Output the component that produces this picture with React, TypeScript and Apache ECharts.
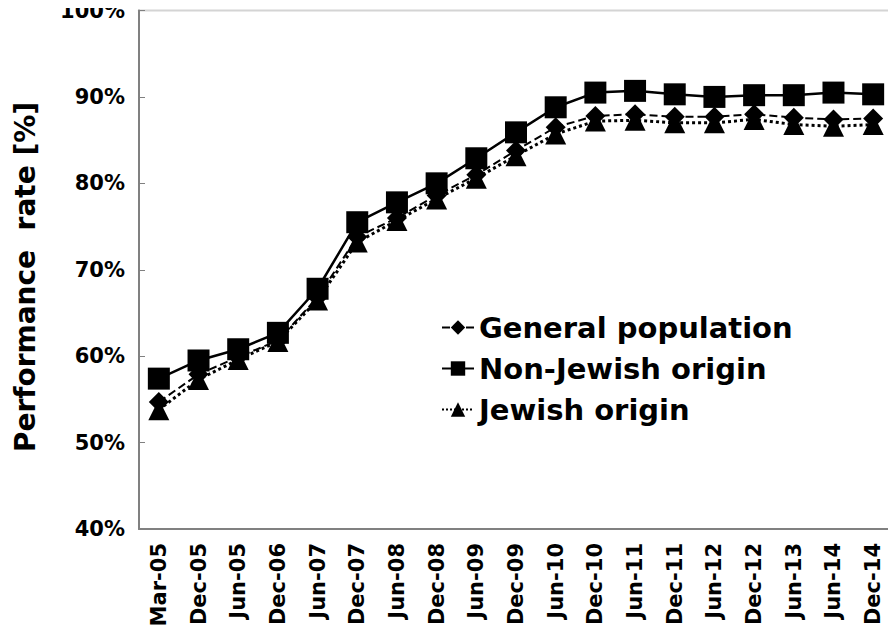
import React, { useEffect, useRef } from "react";
import * as echarts from "echarts";

const categories = [
  "Mar-05", "Dec-05", "Jun-05", "Dec-06", "Jun-07", "Dec-07", "Jun-08", "Dec-08",
  "Jun-09", "Dec-09", "Jun-10", "Dec-10", "Jun-11", "Dec-11", "Jun-12", "Dec-12",
  "Jun-13", "Jun-14", "Dec-14",
];
const generalPopulation = [54.7, 57.9, 59.9, 61.8, 66.8, 73.8, 76.0, 78.6, 81.0, 83.8, 86.5, 87.8, 88.0, 87.7, 87.7, 88.0, 87.6, 87.4, 87.5];
const nonJewishOrigin = [57.4, 59.5, 60.8, 62.7, 67.8, 75.5, 77.8, 80.0, 82.9, 85.9, 88.8, 90.5, 90.7, 90.3, 90.0, 90.2, 90.2, 90.5, 90.3];
const jewishOrigin = [53.8, 57.3, 59.6, 61.7, 66.5, 73.2, 75.7, 78.2, 80.6, 83.2, 85.7, 87.2, 87.3, 87.0, 87.0, 87.4, 86.8, 86.6, 86.8];
const seriesNames = ["General population", "Non-Jewish origin", "Jewish origin"];
const yAxisTitle = "Performance  rate [%]";

const FONT = "DejaVu Sans";

export default function App() {
  const ref = useRef<HTMLDivElement>(null);
  useEffect(() => {
    if (!ref.current) return;
    const chart = echarts.init(ref.current, null, { renderer: "svg" });
    chart.setOption({
      animation: false,
      backgroundColor: "#ffffff",
      grid: {
        left: 139,
        top: 10,
        right: 3,
        bottom: 105,
        show: true,
        borderColor: "#d4d4d4",
        borderWidth: 2,
        backgroundColor: "#ffffff",
      },
      legend: {
        orient: "vertical",
        left: 436,
        top: 308,
        itemWidth: 32,
        itemHeight: 18,
        itemGap: 12,
        data: seriesNames,
        textStyle: { fontFamily: FONT, fontWeight: "bold", fontSize: 29, color: "#000" },
      },
      graphic: [
        {
          type: "text",
          x: 25,
          y: 277,
          rotation: Math.PI / 2,
          style: {
            text: yAxisTitle,
            fontFamily: FONT,
            fontWeight: "bold",
            fontSize: 28,
            fill: "#000",
            align: "center",
            verticalAlign: "middle",
          },
        },
      ],
      xAxis: {
        type: "category",
        data: categories,
        boundaryGap: true,
        axisLine: { lineStyle: { color: "#808080", width: 2 } },
        axisTick: { show: false },
        axisLabel: {
          rotate: 90,
          margin: 14,
          interval: 0,
          fontFamily: FONT,
          fontWeight: "bold",
          fontSize: 21,
          color: "#000",
        },
      },
      yAxis: {
        type: "value",
        min: 40,
        max: 100,
        interval: 10,
        axisLine: { show: true, lineStyle: { color: "#808080", width: 2 } },
        axisTick: { show: true, inside: true, length: 6, lineStyle: { color: "#808080", width: 1 } },
        splitLine: { show: false },
        axisLabel: {
          margin: 14,
          formatter: "{value}%",
          fontFamily: FONT,
          fontWeight: "bold",
          fontSize: 21,
          lineHeight: 16,
          color: "#000",
        },
      },
      series: [
        {
          name: seriesNames[0],
          type: "line",
          data: generalPopulation,
          symbol: "diamond",
          symbolSize: 20,
          itemStyle: { color: "#000" },
          lineStyle: { color: "#000", width: 2, type: "dashed" },
        },
        {
          name: seriesNames[1],
          type: "line",
          data: nonJewishOrigin,
          symbol: "rect",
          symbolSize: 22,
          itemStyle: { color: "#000" },
          lineStyle: { color: "#000", width: 2.5, type: "solid" },
        },
        {
          name: seriesNames[2],
          type: "line",
          data: jewishOrigin,
          symbol: "triangle",
          symbolSize: 21,
          itemStyle: { color: "#000" },
          lineStyle: { color: "#000", width: 3, type: "dotted" },
        },
      ],
    });
    return () => chart.dispose();
  }, []);
  return <div ref={ref} style={{ width: 896, height: 634, margin: -8 }} />;
}
